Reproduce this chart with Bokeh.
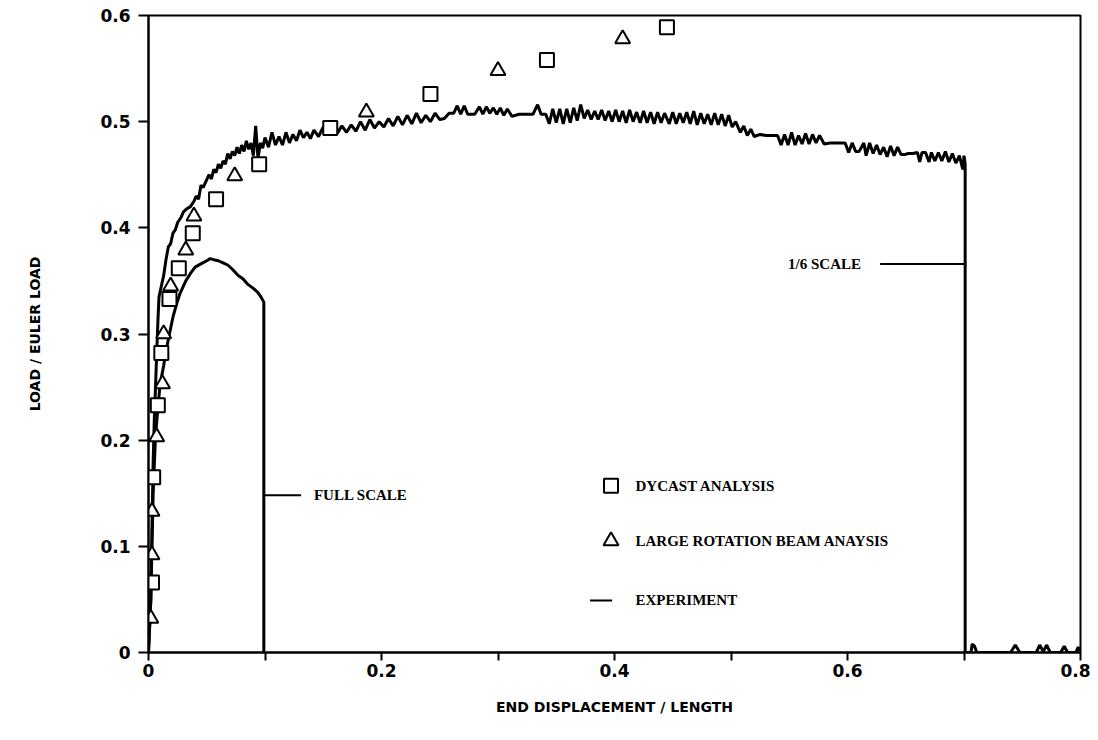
from bokeh.plotting import figure
from bokeh.models import Range1d, FixedTicker, Label
from bokeh.embed import file_html
from bokeh.resources import INLINE

# ---------------- data ----------------
dycast_x = [0.003, 0.004, 0.008, 0.011, 0.018, 0.026, 0.038, 0.058, 0.095, 0.156, 0.242, 0.342, 0.445]
dycast_y = [0.066, 0.165, 0.233, 0.282, 0.333, 0.362, 0.395, 0.427, 0.460, 0.494, 0.526, 0.558, 0.589]

beam_x = [0.002, 0.003, 0.003, 0.007, 0.012, 0.013, 0.019, 0.032, 0.039, 0.074, 0.187, 0.300, 0.407]
beam_y = [0.032, 0.092, 0.133, 0.203, 0.253, 0.300, 0.345, 0.379, 0.411, 0.449, 0.509, 0.548, 0.578]

# experiment, 1/6 scale specimen
sixth_x = [0.000, 0.002, 0.003, 0.004, 0.005, 0.006, 0.007, 0.008, 0.009, 0.011, 0.013, 0.015, 0.017,
           0.019, 0.021, 0.023, 0.025, 0.028, 0.030, 0.033, 0.036, 0.039, 0.041, 0.043, 0.045, 0.047,
           0.049, 0.052, 0.054, 0.056, 0.058, 0.060, 0.062, 0.064, 0.066, 0.068, 0.070, 0.072, 0.074,
           0.076, 0.078, 0.080, 0.082, 0.084, 0.086, 0.088, 0.090, 0.092, 0.094, 0.096, 0.098, 0.100,
           0.103, 0.106, 0.109, 0.112, 0.115, 0.118, 0.121, 0.124, 0.127, 0.130, 0.133, 0.136, 0.139,
           0.142, 0.146, 0.150, 0.154, 0.158, 0.162, 0.166, 0.170, 0.174, 0.178, 0.182, 0.186, 0.190,
           0.194, 0.198, 0.202, 0.206, 0.210, 0.214, 0.218, 0.222, 0.226, 0.230, 0.234, 0.238, 0.242,
           0.246, 0.250, 0.254, 0.258, 0.262, 0.265, 0.268, 0.271, 0.274, 0.280, 0.284, 0.287, 0.290,
           0.293, 0.296, 0.299, 0.302, 0.305, 0.308, 0.312, 0.318, 0.325, 0.330, 0.334, 0.337, 0.341,
           0.344, 0.347, 0.350, 0.353, 0.356, 0.359, 0.362, 0.365, 0.368, 0.371, 0.374, 0.377, 0.380,
           0.383, 0.386, 0.389, 0.392, 0.395, 0.398, 0.401, 0.404, 0.407, 0.410, 0.413, 0.416, 0.419,
           0.422, 0.425, 0.428, 0.431, 0.434, 0.437, 0.440, 0.443, 0.447, 0.450, 0.453, 0.456, 0.459,
           0.462, 0.465, 0.468, 0.471, 0.474, 0.477, 0.480, 0.483, 0.486, 0.489, 0.492, 0.495, 0.498,
           0.501, 0.504, 0.508, 0.511, 0.514, 0.517, 0.520, 0.525, 0.530, 0.535, 0.540, 0.543, 0.546,
           0.549, 0.552, 0.555, 0.558, 0.561, 0.564, 0.567, 0.570, 0.573, 0.576, 0.580, 0.585, 0.592,
           0.598, 0.601, 0.604, 0.607, 0.610, 0.614, 0.616, 0.619, 0.622, 0.625, 0.628, 0.631, 0.634,
           0.637, 0.640, 0.643, 0.646, 0.649, 0.652, 0.656, 0.660, 0.662, 0.664, 0.667, 0.670, 0.672,
           0.675, 0.678, 0.681, 0.684, 0.687, 0.690, 0.693, 0.696, 0.699, 0.700, 0.701, 0.701,
           0.706, 0.707, 0.709, 0.711, 0.740, 0.744, 0.748, 0.762, 0.765, 0.768, 0.771, 0.774, 0.783,
           0.786, 0.789, 0.796, 0.798, 0.800]
sixth_y = [0.000, 0.050, 0.120, 0.180, 0.220, 0.250, 0.280, 0.310, 0.335, 0.345, 0.355, 0.370, 0.382,
           0.385, 0.395, 0.398, 0.405, 0.410, 0.415, 0.418, 0.420, 0.425, 0.430, 0.427, 0.440, 0.438,
           0.443, 0.450, 0.446, 0.455, 0.452, 0.460, 0.456, 0.463, 0.460, 0.470, 0.465, 0.472, 0.468,
           0.476, 0.470, 0.478, 0.472, 0.482, 0.474, 0.480, 0.468, 0.496, 0.465, 0.480, 0.475, 0.485,
           0.476, 0.490, 0.478, 0.486, 0.478, 0.490, 0.480, 0.488, 0.482, 0.492, 0.485, 0.490, 0.484,
           0.492, 0.486, 0.495, 0.488, 0.494, 0.489, 0.496, 0.490, 0.497, 0.491, 0.500, 0.492, 0.502,
           0.494, 0.500, 0.495, 0.503, 0.496, 0.505, 0.497, 0.506, 0.498, 0.508, 0.499, 0.506, 0.500,
           0.508, 0.502, 0.503, 0.508, 0.508, 0.515, 0.507, 0.515, 0.507, 0.507, 0.514, 0.507, 0.514,
           0.508, 0.513, 0.507, 0.513, 0.506, 0.512, 0.505, 0.507, 0.507, 0.507, 0.516, 0.507, 0.507,
           0.498, 0.512, 0.499, 0.512, 0.498, 0.512, 0.499, 0.513, 0.501, 0.516, 0.503, 0.511, 0.502,
           0.510, 0.502, 0.511, 0.501, 0.510, 0.500, 0.511, 0.500, 0.510, 0.499, 0.511, 0.500, 0.509,
           0.499, 0.510, 0.499, 0.509, 0.498, 0.509, 0.499, 0.508, 0.498, 0.509, 0.498, 0.508, 0.499,
           0.509, 0.498, 0.510, 0.497, 0.508, 0.498, 0.507, 0.497, 0.508, 0.497, 0.507, 0.496, 0.506,
           0.495, 0.500, 0.490, 0.496, 0.487, 0.493, 0.486, 0.488, 0.487, 0.487, 0.487, 0.478, 0.488,
           0.478, 0.490, 0.478, 0.487, 0.479, 0.489, 0.479, 0.488, 0.480, 0.487, 0.479, 0.480, 0.480,
           0.480, 0.471, 0.480, 0.472, 0.472, 0.480, 0.468, 0.480, 0.470, 0.478, 0.469, 0.476, 0.467,
           0.477, 0.468, 0.476, 0.469, 0.469, 0.470, 0.470, 0.471, 0.462, 0.471, 0.471, 0.462, 0.471,
           0.463, 0.471, 0.463, 0.472, 0.462, 0.470, 0.461, 0.468, 0.455, 0.468, 0.460, 0.000,
           0.000, 0.008, 0.006, 0.000, 0.000, 0.007, 0.000, 0.000, 0.007, 0.001, 0.007, 0.000, 0.000,
           0.006, 0.000, 0.000, 0.005, 0.000]

# experiment, full scale specimen
full_x = [0.000, 0.002, 0.003, 0.004, 0.006, 0.008, 0.010, 0.013, 0.015, 0.018, 0.021, 0.024, 0.027,
          0.032, 0.036, 0.040, 0.045, 0.050, 0.053, 0.056, 0.060, 0.064, 0.068, 0.072, 0.077, 0.081,
          0.085, 0.090, 0.094, 0.097, 0.099, 0.099]
full_y = [0.000, 0.050, 0.100, 0.150, 0.203, 0.230, 0.253, 0.270, 0.284, 0.300, 0.316, 0.328, 0.338,
          0.350, 0.357, 0.363, 0.366, 0.369, 0.371, 0.370, 0.369, 0.367, 0.365, 0.361, 0.355, 0.352,
          0.347, 0.343, 0.339, 0.334, 0.330, 0.000]

x_ticks = [0.0, 0.1, 0.2, 0.3, 0.4, 0.5, 0.6, 0.7, 0.8]
x_tick_labels = ["0", "", "0.2", "", "0.4", "", "0.6", "", "0.8"]
y_ticks = [0.0, 0.1, 0.2, 0.3, 0.4, 0.5, 0.6]
y_tick_labels = ["0", "0.1", "0.2", "0.3", "0.4", "0.5", "0.6"]

legend_labels = ["DYCAST ANALYSIS", "LARGE ROTATION BEAM ANAYSIS", "EXPERIMENT"]

# ---------------- figure ----------------
SERIF = "Liberation Serif"
SANS = "DejaVu Sans"

p = figure(width=1090, height=732, output_backend="svg", toolbar_location=None,
           x_range=Range1d(0, 0.8), y_range=Range1d(0, 0.6),
           min_border_left=148, min_border_right=10, min_border_top=15, min_border_bottom=80)
p.grid.visible = False
p.outline_line_color = "black"
p.outline_line_width = 2
p.background_fill_color = "white"

for ax in (p.xaxis[0], p.yaxis[0]):
    ax.axis_line_width = 2
    ax.major_tick_line_width = 2
    ax.minor_tick_line_color = None
    ax.major_tick_in = 0
    ax.major_label_text_font = SANS
    ax.major_label_text_font_style = "bold"
    ax.major_label_text_font_size = "17px"
    ax.major_label_text_color = "black"
    ax.axis_label_text_font = SANS
    ax.axis_label_text_font_style = "bold"
    ax.axis_label_text_font_size = "14px"
    ax.axis_label_text_color = "black"

p.xaxis.ticker = FixedTicker(ticks=x_ticks)
p.xaxis.major_label_overrides = dict(zip(x_ticks, x_tick_labels))
p.xaxis.major_tick_out = 8
p.xaxis.major_label_standoff = 3
p.xaxis.axis_label = "END DISPLACEMENT / LENGTH"
p.xaxis.axis_label_standoff = 19

p.yaxis.ticker = FixedTicker(ticks=y_ticks)
p.yaxis.major_label_overrides = dict(zip(y_ticks, y_tick_labels))
p.yaxis.major_tick_out = 10
p.yaxis.major_label_standoff = 8
p.yaxis.axis_label = "LOAD / EULER LOAD"
p.yaxis.axis_label_standoff = 54

p.line(sixth_x, sixth_y, line_color="black", line_width=3)
p.line(full_x, full_y, line_color="black", line_width=3)

p.scatter(dycast_x, dycast_y, marker="square", size=14, fill_color="white",
          line_color="black", line_width=2)
p.scatter(beam_x, beam_y, marker="triangle", size=15, fill_color="white",
          line_color="black", line_width=2)

# leader lines and specimen labels
p.segment(x0=[0.099, 0.628], y0=[0.148, 0.366], x1=[0.131, 0.701], y1=[0.148, 0.366],
          line_color="black", line_width=2)
for txt, xx, yy in (("FULL SCALE", 0.142, 0.148), ("1/6 SCALE", 0.549, 0.366)):
    p.add_layout(Label(x=xx, y=yy, text=txt, text_font=SERIF, text_font_style="bold",
                       text_font_size="15px", text_baseline="middle", text_color="black"))

# key (drawn by hand, as in the original figure)
KEY_X, KEY_TX = 0.397, 0.418
KEY_Y = [0.157, 0.105, 0.049]
p.scatter([KEY_X], [KEY_Y[0]], marker="square", size=14, fill_color="white",
          line_color="black", line_width=2)
p.scatter([KEY_X], [KEY_Y[1]], marker="triangle", size=15, fill_color="white",
          line_color="black", line_width=2)
p.segment(x0=[0.379], y0=[KEY_Y[2]], x1=[0.398], y1=[KEY_Y[2]], line_color="black", line_width=2)
for txt, yy in zip(legend_labels, KEY_Y):
    p.add_layout(Label(x=KEY_TX, y=yy, text=txt, text_font=SERIF, text_font_style="bold",
                       text_font_size="15px", text_baseline="middle", text_color="black"))

open("out.html", "w").write(file_html(p, INLINE))
